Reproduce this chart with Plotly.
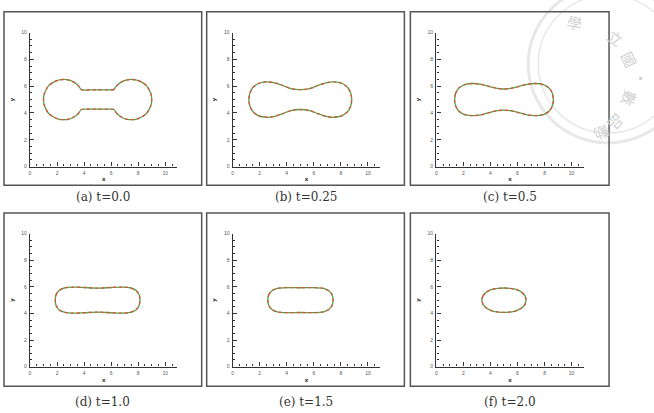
import plotly.graph_objects as go

W, H = 654, 413

# ---------------- data ----------------
captions = ["(a) t=0.0", "(b) t=0.25", "(c) t=0.5", "(d) t=1.0", "(e) t=1.5", "(f) t=2.0"]

xa = [6.2, 5.6, 5.0, 4.4, 3.8, 3.56, 3.25, 2.9, 2.5, 2.1, 1.75, 1.4, 1.2, 1.05, 1.0, 1.05, 1.2, 1.4, 1.75, 2.1, 2.5,
      2.9, 3.25, 3.56, 3.8, 4.4, 5.0, 5.6, 6.2, 6.44, 6.75, 7.1, 7.5, 7.9, 8.25, 8.6, 8.8, 8.95, 9.0, 8.95, 8.8, 8.6,
      8.25, 7.9, 7.5, 7.1, 6.75, 6.44, 6.2]
ya = [5.72, 5.72, 5.72, 5.72, 5.74, 6.06, 6.3, 6.45, 6.5, 6.45, 6.3, 6.06, 5.75, 5.39, 5.0, 4.61, 4.25, 3.94, 3.7, 3.55,
      3.5, 3.55, 3.7, 3.94, 4.26, 4.28, 4.28, 4.28, 4.26, 3.94, 3.7, 3.55, 3.5, 3.55, 3.7, 3.94, 4.25, 4.61, 5.0, 5.39,
      5.75, 6.06, 6.3, 6.45, 6.5, 6.45, 6.3, 6.06, 5.74]

xb = [1.2, 1.28, 1.5, 1.9, 2.5, 3.1, 3.7, 4.3, 5.0, 5.7, 6.3, 6.9, 7.5, 8.1, 8.5, 8.72, 8.8,
      8.72, 8.5, 8.1, 7.5, 6.9, 6.3, 5.7, 5.0, 4.3, 3.7, 3.1, 2.5, 1.9, 1.5, 1.28, 1.2]
yb = [5.0, 5.5, 5.9, 6.2, 6.32, 6.25, 6.05, 5.82, 5.74, 5.82, 6.05, 6.25, 6.32, 6.2, 5.9, 5.5, 5.0,
      4.5, 4.1, 3.8, 3.68, 3.75, 3.95, 4.18, 4.26, 4.18, 3.95, 3.75, 3.68, 3.8, 4.1, 4.5, 5.0]

xc = [1.35, 1.42, 1.65, 2.1, 2.7, 3.3, 4.0, 4.5, 5.0, 5.5, 6.0, 6.7, 7.3, 7.9, 8.35, 8.58, 8.65,
      8.58, 8.35, 7.9, 7.3, 6.7, 6.0, 5.5, 5.0, 4.5, 4.0, 3.3, 2.7, 2.1, 1.65, 1.42, 1.35]
yc = [5.0, 5.45, 5.85, 6.12, 6.2, 6.14, 5.95, 5.83, 5.79, 5.83, 5.95, 6.14, 6.2, 6.12, 5.85, 5.45, 5.0,
      4.55, 4.15, 3.88, 3.8, 3.86, 4.05, 4.17, 4.21, 4.17, 4.05, 3.86, 3.8, 3.88, 4.15, 4.55, 5.0]

xd = [1.87, 1.93, 2.15, 2.6, 3.2, 4.0, 5.0, 6.0, 6.8, 7.4, 7.85, 8.07, 8.13,
      8.07, 7.85, 7.4, 6.8, 6.0, 5.0, 4.0, 3.2, 2.6, 2.15, 1.93, 1.87]
yd = [5.0, 5.4, 5.72, 5.93, 5.98, 5.95, 5.9, 5.95, 5.98, 5.93, 5.72, 5.4, 5.0,
      4.6, 4.28, 4.07, 4.02, 4.05, 4.1, 4.05, 4.02, 4.07, 4.28, 4.6, 5.0]

xe = [2.6, 2.67, 2.9, 3.3, 4.0, 5.0, 6.0, 6.7, 7.1, 7.35, 7.42,
      7.35, 7.1, 6.7, 6.0, 5.0, 4.0, 3.3, 2.9, 2.67, 2.6]
ye = [5.0, 5.4, 5.7, 5.88, 5.94, 5.93, 5.94, 5.88, 5.7, 5.4, 5.0,
      4.6, 4.3, 4.12, 4.06, 4.07, 4.06, 4.12, 4.3, 4.6, 5.0]

xf = [3.37, 3.45, 3.7, 4.1, 4.6, 5.0, 5.4, 5.9, 6.3, 6.55, 6.63,
      6.55, 6.3, 5.9, 5.4, 5.0, 4.6, 4.1, 3.7, 3.45, 3.37]
yf = [5.0, 5.32, 5.6, 5.8, 5.89, 5.91, 5.89, 5.8, 5.6, 5.32, 5.0,
      4.68, 4.4, 4.2, 4.1, 4.08, 4.1, 4.2, 4.4, 4.68, 5.0]

curves = [(xa, ya), (xb, yb), (xc, yc), (xd, yd), (xe, ye), (xf, yf)]
x_ticks = [0, 2, 4, 6, 8, 10]
y_ticks = [0, 2, 4, 6, 8, 10]

# ---------------- layout geometry (pixels) ----------------
col_x0 = [29, 232, 436]          # pixel of x=0
px_per_unit = 13.55
x_max = 10.9
rows_y = [(30, 166), (234, 369)]  # (pixel of y=10, pixel of y=0)
box_cols = [(3, 201), (206, 404), (410, 609)]
box_rows = [(9, 185), (213, 389)]
cap_y = [197, 405]

fig = go.Figure()
layout = dict(width=W, height=H, margin=dict(l=0, r=0, t=0, b=0),
              paper_bgcolor="white", plot_bgcolor="rgba(0,0,0,0)", showlegend=False)
shapes = []
annotations = []

# faint watermark seal (top right)
wm_cx, wm_cy = 608, 62
for r, w in [(80, 3), (70, 1.5)]:
    shapes.append(dict(type="circle", xref="paper", yref="paper", layer="below",
                       x0=(wm_cx - r) / W, x1=(wm_cx + r) / W, y0=1 - (wm_cy + r) / H, y1=1 - (wm_cy - r) / H,
                       line=dict(color="#e8e8e8", width=w)))
for ch, px, py, rot in [("學", 586, 6, 10), ("立", 630, 19, 35), ("國", 645, 43, 65), ("•", 650, 63, 0),
                        ("數", 644, 83, 110), ("品", 632, 106, 135), ("勳", 616, 116, 155)]:
    annotations.append(dict(text=ch, x=px / W, y=1 - py / H, xref="paper", yref="paper", showarrow=False,
                            textangle=rot, font=dict(size=15, color="#d2d2d2", family="Noto Sans CJK TC")))

for i, (xs, ys) in enumerate(curves):
    r, c = divmod(i, 3)
    sfx = "" if i == 0 else str(i + 1)
    fig.add_trace(go.Scatter(x=xs, y=ys, mode="lines", line=dict(color="#5aa046", width=1.3, shape="spline", smoothing=0.8),
                             xaxis="x" + sfx, yaxis="y" + sfx, hoverinfo="skip"))
    fig.add_trace(go.Scatter(x=xs, y=ys, mode="lines",
                             line=dict(color="#d9523e", width=1.3, dash="3px,3px", shape="spline", smoothing=0.8),
                             xaxis="x" + sfx, yaxis="y" + sfx, hoverinfo="skip"))
    x0 = col_x0[c]
    x1 = x0 + px_per_unit * x_max
    ytop, ybot = rows_y[r]
    common = dict(showline=True, linecolor="#333", linewidth=1.4, ticks="inside", ticklen=4, tickwidth=1,
                  tickcolor="#333", minor=dict(ticks="inside", ticklen=2, dtick=0.5, tickcolor="#333", tickwidth=1),
                  tickfont=dict(size=5, color="#555", family="Arial"), showgrid=False, zeroline=False,
                  ticklabelstandoff=1)
    layout["xaxis" + sfx] = dict(domain=[x0 / W, x1 / W], range=[0, x_max], anchor="y" + sfx,
                                 tickvals=x_ticks, ticktext=[str(v) for v in x_ticks],
                                 title=dict(text="<b>x</b>", font=dict(size=6, color="#333"), standoff=2), **common)
    layout["yaxis" + sfx] = dict(domain=[1 - ybot / H, 1 - ytop / H], range=[0, 10], anchor="x" + sfx,
                                 tickvals=y_ticks, ticktext=[str(v) for v in y_ticks],
                                 title=dict(text="<b>y</b>", font=dict(size=6, color="#333"), standoff=6), **common)
    bx0, bx1 = box_cols[c]
    by0, by1 = box_rows[r]
    shapes.append(dict(type="rect", xref="paper", yref="paper", x0=bx0 / W, x1=bx1 / W,
                       y0=1 - by1 / H, y1=1 - by0 / H, line=dict(color="#555", width=1.5)))
    annotations.append(dict(text=captions[i], x=(bx0 + bx1) / 2 / W, y=1 - cap_y[r] / H, xref="paper", yref="paper",
                            showarrow=False, xanchor="center", yanchor="middle",
                            font=dict(size=12, color="#333", family="DejaVu Serif")))

layout["shapes"] = shapes
layout["annotations"] = annotations
fig.update_layout(**layout)
fig.write_html("out.html")
